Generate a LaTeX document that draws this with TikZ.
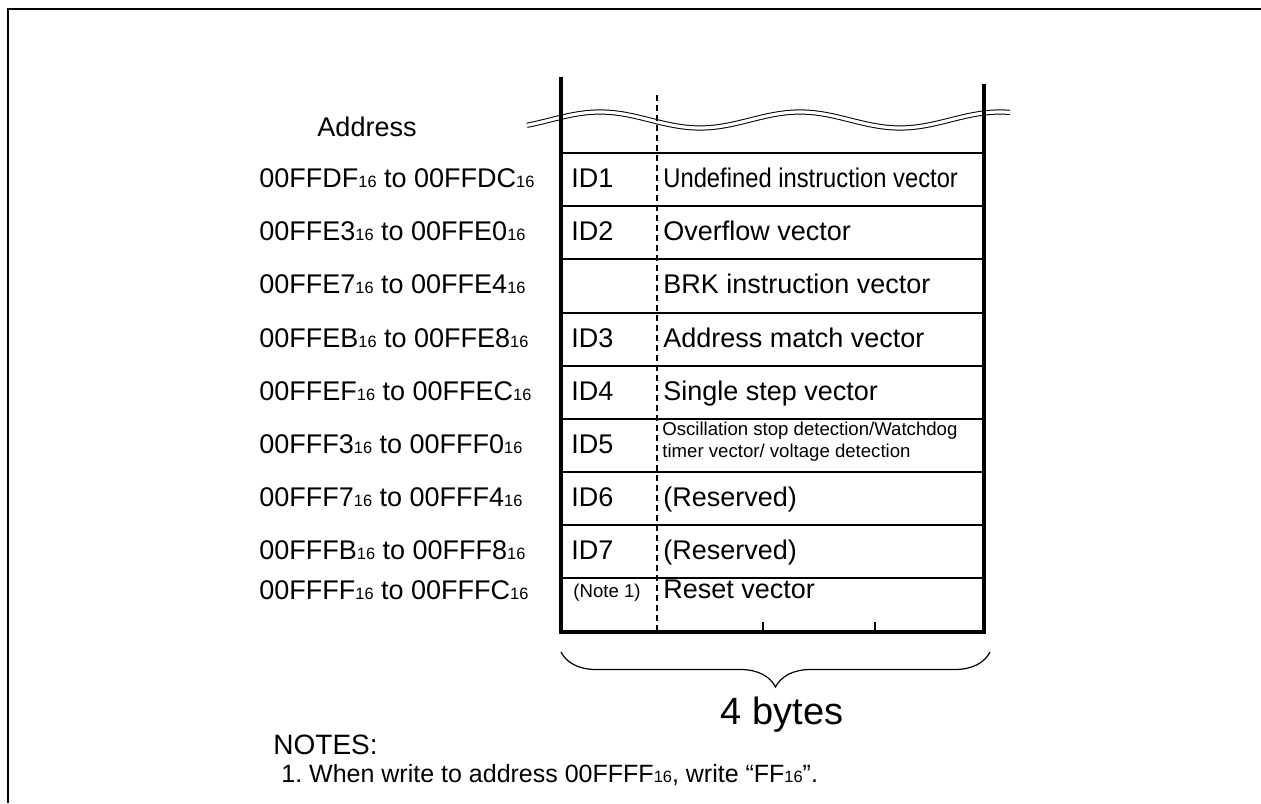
\documentclass[tikz,border=0pt]{standalone}
\usepackage{fontspec}
\setmainfont{Liberation Sans}
\usetikzlibrary{positioning,decorations.pathreplacing}

\newcommand{\hexsub}{{\fontsize{8.2}{9}\selectfont 16}}

\begin{document}
\begin{tikzpicture}[x=0.5pt, y=-0.5pt,
    every node/.style={inner sep=0pt, font=\fontsize{13.5}{15}\selectfont},
    addr/.style={anchor=base west},
    cell/.style={anchor=base west},
    smalltext/.style={anchor=base west, font=\fontsize{9.3}{10.5}\selectfont},
    thinrow/.style={line width=0.6pt},
    midrow/.style={line width=1pt},
    thickrow/.style={line width=1.4pt},
    wall/.style={line width=1.6pt}]
		\useasboundingbox (0,0) rectangle (1261,803);
		
		% Frame
		\draw[line width=1pt] (8,803) -- (8,9) -- (1261,9);
		
		% Break mark
		\draw[double, double distance=1.6pt, line width=0.5pt]
		  plot[smooth, domain=527:1010, samples=80] (\x, {120 + 8*sin((\x-650)*1.8)});
		
		% Column walls
		\coordinate (tl) at (561,77);
		\coordinate (tr) at (984,84);
		\coordinate (bl) at (561,632);
		\coordinate (br) at (984,632);
		\draw[wall] (tl) -- (bl) -- (br) -- (tr);
		\draw[line width=1pt, dash pattern=on 3pt off 2pt] (657,95) -- (657,632);
		\draw[line width=1.2pt] (763,622) -- (763,632);
		\draw[line width=1.2pt] (875,622) -- (875,632);
		
		% Rows
		\draw[thinrow]  (561,153) -- (984,153);
		\draw[thinrow]  (561,206) -- (984,206);
		\draw[thickrow] (561,259) -- (984,259);
		\draw[midrow]   (561,313) -- (984,313);
		\draw[midrow]   (561,366) -- (984,366);
		\draw[thinrow]  (561,419) -- (984,419);
		\draw[thickrow] (561,472) -- (984,472);
		\draw[thickrow] (561,525) -- (984,525);
		\draw[midrow]   (561,578) -- (984,578);
		
		% Addresses
		\node (head) at (367,127) {Address};
		\node[addr] (a1) at (259,187) {00FFDF\hexsub{} to 00FFDC\hexsub};
		\node[addr] (a2) at (259,240) {00FFE3\hexsub{} to 00FFE0\hexsub};
		\node[addr] (a3) at (259,293) {00FFE7\hexsub{} to 00FFE4\hexsub};
		\node[addr] (a4) at (259,347) {00FFEB\hexsub{} to 00FFE8\hexsub};
		\node[addr] (a5) at (259,400) {00FFEF\hexsub{} to 00FFEC\hexsub};
		\node[addr] (a6) at (259,453) {00FFF3\hexsub{} to 00FFF0\hexsub};
		\node[addr] (a7) at (259,506) {00FFF7\hexsub{} to 00FFF4\hexsub};
		\node[addr] (a8) at (259,559) {00FFFB\hexsub{} to 00FFF8\hexsub};
		\node[addr] (a9) at (259,599) {00FFFF\hexsub{} to 00FFFC\hexsub};
		
		% IDs
		\node[cell] (id1) at (571,187) {ID1};
		\node[cell] (id2) at (571,240) {ID2};
		\node[cell] (id3) at (571,347) {ID3};
		\node[cell] (id4) at (571,400) {ID4};
		\node[cell] (id5) at (571,453) {ID5};
		\node[cell] (id6) at (571,506) {ID6};
		\node[cell] (id7) at (571,559) {ID7};
		\node[smalltext] (n1) at (573,597) {(Note 1)};
		
		% Vectors
		\node[cell] (v1) at (663,187) {\scalebox{0.88}[1]{Undefined instruction vector}};
		\node[cell] (v2) at (663,240) {Overflow vector};
		\node[cell] (v3) at (663,293) {BRK instruction vector};
		\node[cell] (v4) at (663,347) {Address match vector};
		\node[cell] (v5) at (663,400) {Single step vector};
		\node[smalltext] (v6a) at (662,435) {Oscillation stop detection/Watchdog};
		\node[smalltext] (v6b) at (662,457) {timer vector/ voltage detection};
		\node[cell] (v7) at (663,506) {(Reserved)};
		\node[cell] (v8) at (663,559) {(Reserved)};
		\node[cell] (v9) at (663,598) {Reset vector};
		
		% Width brace
		\coordinate (bs) at (561,652);
		\coordinate (be) at (990,652);
		\draw[line width=0.6pt, decorate, decoration={brace, mirror, amplitude=17.5pt}] (bs) -- (be);
		\node[font=\fontsize{19}{21}\selectfont] (bytes) at (782,715) {4 bytes};
		
		% Notes
		\node[anchor=base west, font=\fontsize{14}{16}\selectfont] (notes) at (273,754) {NOTES:};
		\node[anchor=base west, font=\fontsize{12.5}{14}\selectfont] (note1) at (281,782) {1.\ When write to address 00FFFF\hexsub, write “FF\hexsub”.};
	\end{tikzpicture}
\end{document}
